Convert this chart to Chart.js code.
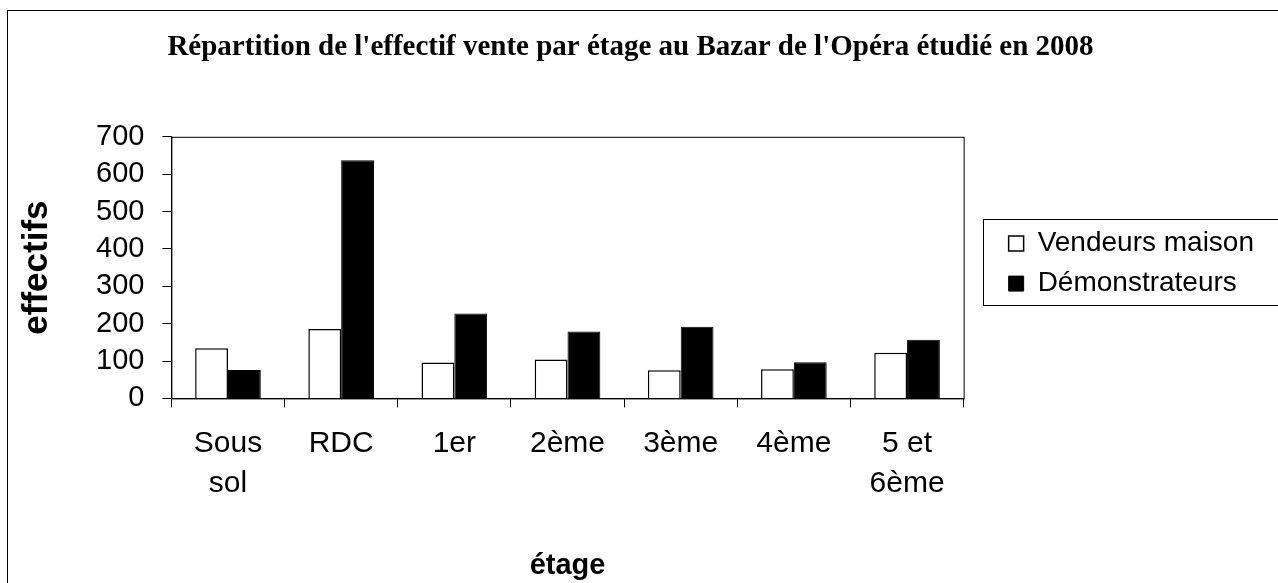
<!DOCTYPE html>
<html>
<head>
<meta charset="utf-8">
<script src="https://cdn.jsdelivr.net/npm/chart.js@4.4.1/dist/chart.umd.min.js"></script>
<style>
  html, body { margin: 0; padding: 0; background: #fff; }
  #wrap { width: 1278px; height: 583px; }
</style>
</head>
<body>
<div id="wrap"><canvas id="effectifChart" width="1278" height="583"></canvas></div>
<script>
const floors = [['Sous', 'sol'], 'RDC', '1er', '2ème', '3ème', '4ème', ['5 et', '6ème']];
const vendeursMaison = [134, 186, 96, 104, 75, 78, 122];
const demonstrateurs = [76, 637, 227, 179, 192, 97, 157];
const yTicks = [0, 100, 200, 300, 400, 500, 600, 700];

// frame around the plot, the legend and the whole figure
const framePlugin = {
  id: 'frames',
  afterLayout(chart) {
    // push legend a bit away from the plot, and the title a bit right
    chart.legend.left += 33;
    chart.legend.right += 33;
    chart.legend.top -= 4;
    chart.legend.bottom -= 4;
    chart.titleBlock.left += 15;
    chart.titleBlock.right += 15;
  },
  afterDraw(chart) {
    const { ctx, chartArea } = chart;
    ctx.save();
    ctx.strokeStyle = '#000';
    ctx.lineWidth = 1;
    ctx.strokeRect(chartArea.left + 0.5, chartArea.top + 0.5, chartArea.right - chartArea.left, chartArea.bottom - chartArea.top);
    // legend box
    const hb = chart.legend.legendHitBoxes;
    const top = Math.round(hb[0].top) - 11;
    const bottom = Math.round(hb[hb.length - 1].top + hb[hb.length - 1].height) + 7;
    ctx.strokeRect(Math.round(chartArea.right) + 19.5, top + 0.5, 400, bottom - top);
    // outer figure border
    ctx.strokeRect(7.5, 10.5, 1400, 700);
    ctx.restore();
  }
};

const ctx = document.getElementById('effectifChart').getContext('2d');
const effectifChart = new Chart(ctx, {
  type: 'bar',
  data: {
    labels: floors,
    datasets: [{
      label: 'Vendeurs maison',
      data: vendeursMaison,
      backgroundColor: '#ffffff',
      borderColor: '#000000',
      borderWidth: 1.5
    }, {
      label: 'Démonstrateurs',
      data: demonstrateurs,
      backgroundColor: '#000000',
      borderColor: '#000000',
      borderWidth: 1
    }]
  },
  plugins: [framePlugin],
  options: {
    responsive: false,
    animation: false,
    layout: { padding: { left: 0, right: 47, top: 0, bottom: 0 } },
    datasets: {
      bar: { barPercentage: 1.0, categoryPercentage: 0.58 }
    },
    plugins: {
      title: {
        display: true,
        text: "Répartition de l'effectif vente par étage au Bazar de l'Opéra étudié en 2008",
        color: '#000',
        font: { family: '"Liberation Serif", "Times New Roman", serif', size: 29, weight: 'bold' },
        padding: { top: 30, bottom: 72 }
      },
      legend: {
        position: 'right',
        fullSize: false,
        labels: {
          color: '#000',
          font: { family: '"Liberation Sans", Arial, sans-serif', size: 28 },
          boxWidth: 15,
          boxHeight: 15,
          padding: 12
        }
      },
      tooltip: { enabled: false }
    },
    scales: {
      x: {
        grid: { drawOnChartArea: false, color: '#000', tickLength: 9, tickColor: '#000' },
        border: { color: '#000', width: 1 },
        ticks: {
          color: '#000',
          padding: 16,
          maxRotation: 0,
          autoSkip: false,
          font: { family: '"Liberation Sans", Arial, sans-serif', size: 30, lineHeight: 1.33 }
        },
        title: {
          display: true,
          text: 'étage',
          color: '#000',
          font: { family: '"Liberation Sans", Arial, sans-serif', size: 29, weight: 'bold' },
          padding: { top: 29, bottom: 0 }
        }
      },
      y: {
        min: 0,
        max: 700,
        afterBuildTicks(scale) {
          scale.ticks = yTicks.map(v => ({ value: v }));
        },
        grid: { drawOnChartArea: false, color: '#000', tickLength: 9, tickColor: '#000' },
        border: { color: '#000', width: 1 },
        ticks: {
          color: '#000',
          padding: 18,
          autoSkip: false,
          font: { family: '"Liberation Sans", Arial, sans-serif', size: 29 }
        },
        title: {
          display: true,
          text: 'effectifs',
          color: '#000',
          font: { family: '"Liberation Sans", Arial, sans-serif', size: 35, weight: 'bold' },
          padding: { top: 16, bottom: 20 }
        }
      }
    }
  }
});
</script>
</body>
</html>
